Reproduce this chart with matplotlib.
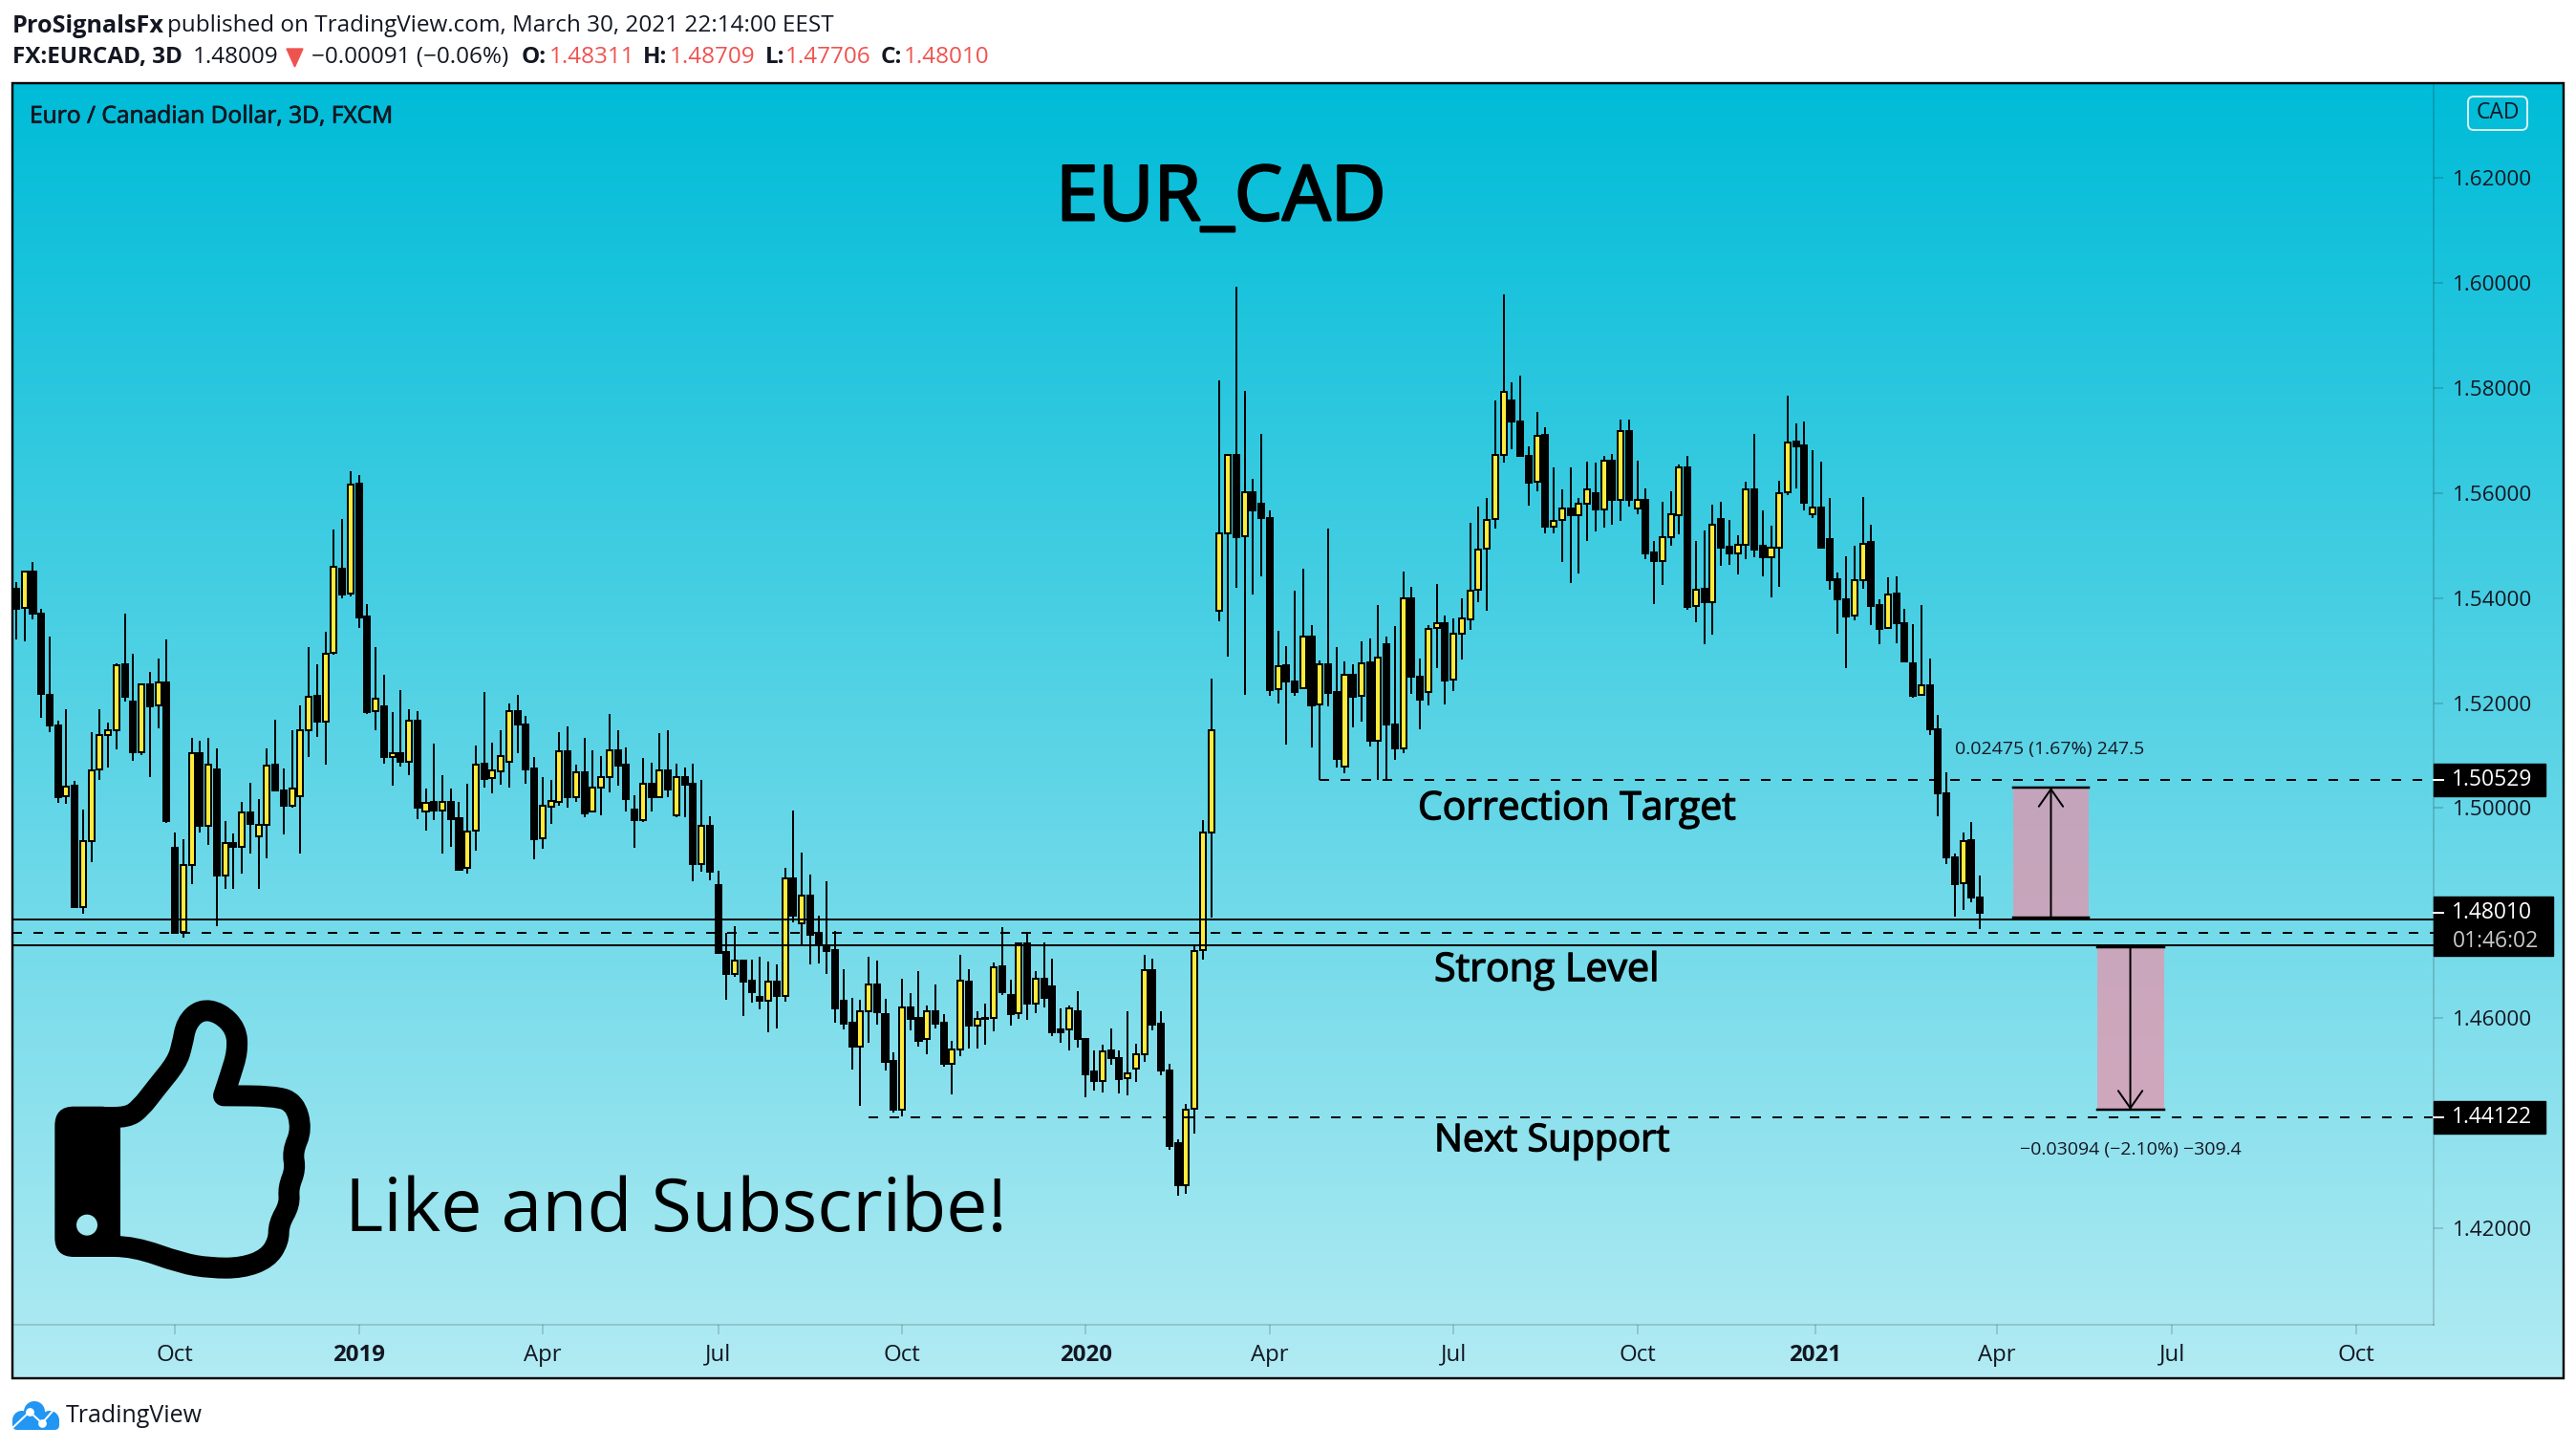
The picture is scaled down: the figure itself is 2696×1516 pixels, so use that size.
#EUR/CAD 3D candle chart with the trade idea drawn over it
import numpy as np
import matplotlib
matplotlib.use("Agg")
import matplotlib.pyplot as plt
import matplotlib.patheffects as pe
from matplotlib.patches import Rectangle, FancyBboxPatch, PathPatch, Circle
from matplotlib.path import Path

plt.rcParams['font.family'] = ['Open Sans', 'DejaVu Sans']

#candle values
opens = [1.5417,1.5381,1.5450,1.5371,1.5216,1.5158,1.5022,1.5042,1.4812,1.4938,
         1.5073,1.5140,1.5149,1.5273,1.5202,1.5107,1.5236,1.5195,1.5240,1.4925,
         1.4764,1.4892,1.5105,1.4967,1.5074,1.4872,1.4934,1.4927,1.4992,1.4946,
         1.4969,1.5082,1.5034,1.5005,1.5022,1.5149,1.5213,1.5165,1.5295,1.5455,
         1.5408,1.5617,1.5364,1.5184,1.5193,1.5098,1.5105,1.5089,1.5167,1.4994,
         1.5011,1.4996,1.5012,1.4980,1.4886,1.4957,1.5084,1.5057,1.5070,1.5089,
         1.5184,1.5160,1.5075,1.4942,1.5003,1.5012,1.5109,1.5021,1.5069,1.4993,
         1.5040,1.5060,1.5111,1.5082,1.4998,1.4978,1.5046,1.5021,1.5071,1.4987,
         1.5060,1.5046,1.4894,1.4967,1.4853,1.4726,1.4684,1.4709,1.4671,1.4640,
         1.4633,1.4670,1.4642,1.4867,1.4780,1.4834,1.4763,1.4739,1.4730,1.4633,
         1.4592,1.4546,1.4614,1.4664,1.4608,1.4518,1.4426,1.4620,1.4600,1.4560,
         1.4613,1.4591,1.4514,1.4541,1.4670,1.4586,1.4601,1.4600,1.4698,1.4645,
         1.4609,1.4743,1.4628,1.4676,1.4660,1.4578,1.4578,1.4613,1.4561,1.4498,
         1.4481,1.4538,1.4525,1.4485,1.4505,1.4532,1.4692,1.4589,1.4501,1.4363,
         1.4282,1.4427,1.4729,1.4953,1.5375,1.5524,1.5672,1.5517,1.5601,1.5579,
         1.5553,1.5226,1.5272,1.5242,1.5228,1.5326,1.5197,1.5274,1.5221,1.5080,
         1.5254,1.5213,1.5277,1.5129,1.5312,1.5160,1.5113,1.5399,1.5251,1.5222,
         1.5343,1.5353,1.5244,1.5333,1.5359,1.5415,1.5494,1.5550,1.5673,1.5776,
         1.5737,1.5670,1.5621,1.5710,1.5536,1.5548,1.5571,1.5557,1.5580,1.5599,
         1.5569,1.5662,1.5587,1.5717,1.5571,1.5586,1.5486,1.5471,1.5516,1.5558,
         1.5648,1.5384,1.5417,1.5393,1.5550,1.5497,1.5485,1.5502,1.5606,1.5499,
         1.5478,1.5496,1.5601,1.5697,1.5690,1.5560,1.5573,1.5513,1.5435,1.5398,
         1.5366,1.5434,1.5506,1.5386,1.5343,1.5408,1.5353,1.5276,1.5215,1.5233,
         1.5151,1.5029,1.4907,1.4857,1.4939,1.4830]
highs = [1.5431,1.5451,1.5468,1.5379,1.5326,1.5167,1.5189,1.5051,1.4998,1.5144,
         1.5189,1.5162,1.5276,1.5371,1.5293,1.5238,1.5260,1.5284,1.5322,1.4954,
         1.4941,1.5134,1.5129,1.5133,1.5114,1.4976,1.4952,1.5012,1.5049,1.5018,
         1.5113,1.5169,1.5076,1.5149,1.5196,1.5307,1.5273,1.5335,1.5530,1.5550,
         1.5641,1.5635,1.5389,1.5306,1.5253,1.5182,1.5225,1.5189,1.5185,1.5038,
         1.5122,1.5062,1.5038,1.5011,1.5047,1.5120,1.5222,1.5124,1.5148,1.5200,
         1.5215,1.5175,1.5097,1.5060,1.5053,1.5144,1.5155,1.5082,1.5133,1.5111,
         1.5100,1.5180,1.5148,1.5115,1.5024,1.5095,1.5087,1.5142,1.5148,1.5084,
         1.5077,1.5084,1.5053,1.4984,1.4880,1.4762,1.4775,1.4712,1.4712,1.4717,
         1.4708,1.4702,1.4886,1.4995,1.4915,1.4873,1.4796,1.4860,1.4766,1.4693,
         1.4639,1.4635,1.4717,1.4710,1.4637,1.4535,1.4675,1.4648,1.4690,1.4624,
         1.4664,1.4608,1.4556,1.4720,1.4693,1.4613,1.4627,1.4707,1.4773,1.4674,
         1.4745,1.4762,1.4689,1.4745,1.4713,1.4618,1.4625,1.4652,1.4562,1.4538,
         1.4549,1.4581,1.4538,1.4614,1.4552,1.4720,1.4713,1.4614,1.4514,1.4370,
         1.4436,1.4737,1.4978,1.5246,1.5814,1.5674,1.5992,1.5794,1.5626,1.5712,
         1.5566,1.5337,1.5308,1.5414,1.5455,1.5348,1.5282,1.5533,1.5306,1.5280,
         1.5273,1.5317,1.5323,1.5386,1.5326,1.5346,1.5450,1.5421,1.5284,1.5348,
         1.5426,1.5366,1.5362,1.5399,1.5544,1.5575,1.5590,1.5776,1.5979,1.5810,
         1.5824,1.5688,1.5755,1.5726,1.5648,1.5606,1.5648,1.5590,1.5659,1.5657,
         1.5670,1.5675,1.5739,1.5739,1.5661,1.5608,1.5508,1.5584,1.5604,1.5655,
         1.5670,1.5508,1.5528,1.5577,1.5584,1.5548,1.5520,1.5622,1.5712,1.5566,
         1.5537,1.5624,1.5785,1.5732,1.5737,1.5681,1.5659,1.5591,1.5449,1.5479,
         1.5500,1.5593,1.5539,1.5397,1.5439,1.5442,1.5379,1.5351,1.5386,1.5284,
         1.5178,1.5069,1.4914,1.4954,1.4974,1.4871]
lows = [1.5322,1.5318,1.5359,1.5172,1.5145,1.5010,1.5008,1.4810,1.4799,1.4897,
        1.5054,1.5077,1.5112,1.5203,1.5090,1.5101,1.5059,1.5152,1.4972,1.4761,
        1.4753,1.4855,1.4954,1.4930,1.4775,1.4846,1.4846,1.4875,1.4914,1.4846,
        1.4904,1.5032,1.4950,1.5001,1.4914,1.5097,1.5136,1.5083,1.5292,1.5400,
        1.5403,1.5343,1.5179,1.5148,1.5085,1.5043,1.5079,1.5063,1.4979,1.4957,
        1.4977,1.4914,1.4926,1.4881,1.4875,1.4919,1.5039,1.5028,1.5044,1.5039,
        1.5105,1.5046,1.4902,1.4922,1.4970,1.5004,1.5001,1.5012,1.4983,1.4992,
        1.4986,1.5030,1.5043,1.4993,1.4924,1.4973,1.4993,1.5019,1.5021,1.4983,
        1.4983,1.4860,1.4879,1.4862,1.4723,1.4635,1.4679,1.4604,1.4630,1.4617,
        1.4573,1.4580,1.4631,1.4782,1.4740,1.4702,1.4704,1.4684,1.4592,1.4579,
        1.4502,1.4433,1.4553,1.4588,1.4500,1.4420,1.4413,1.4577,1.4546,1.4531,
        1.4581,1.4507,1.4455,1.4527,1.4542,1.4542,1.4549,1.4575,1.4644,1.4586,
        1.4598,1.4597,1.4609,1.4620,1.4566,1.4553,1.4538,1.4544,1.4449,1.4462,
        1.4458,1.4511,1.4456,1.4453,1.4478,1.4516,1.4577,1.4491,1.4349,1.4262,
        1.4265,1.4380,1.4711,1.4791,1.5356,1.5288,1.5419,1.5216,1.5406,1.5442,
        1.5214,1.5199,1.5121,1.5214,1.5226,1.5115,1.5054,1.5193,1.5078,1.5066,
        1.5154,1.5165,1.5118,1.5054,1.5054,1.5092,1.5104,1.5218,1.5151,1.5196,
        1.5267,1.5197,1.5223,1.5283,1.5339,1.5392,1.5376,1.5532,1.5658,1.5683,
        1.5668,1.5576,1.5603,1.5523,1.5523,1.5469,1.5429,1.5447,1.5508,1.5527,
        1.5534,1.5539,1.5547,1.5574,1.5559,1.5474,1.5388,1.5425,1.5499,1.5521,
        1.5377,1.5354,1.5312,1.5330,1.5461,1.5463,1.5445,1.5474,1.5477,1.5441,
        1.5401,1.5421,1.5596,1.5608,1.5566,1.5552,1.5494,1.5415,1.5333,1.5266,
        1.5357,1.5417,1.5348,1.5312,1.5342,1.5313,1.5279,1.5211,1.5214,1.5139,
        1.4985,1.4893,1.4794,1.4806,1.4821,1.4770]
closes = [1.5380,1.5450,1.5371,1.5218,1.5158,1.5021,1.5041,1.4812,1.4937,1.5072,
          1.5139,1.5148,1.5272,1.5212,1.5107,1.5236,1.5194,1.5239,1.4975,1.4762,
          1.4892,1.5105,1.4967,1.5083,1.4872,1.4934,1.4927,1.4992,1.4970,1.4968,
          1.5081,1.5034,1.5005,1.5037,1.5148,1.5212,1.5165,1.5294,1.5460,1.5407,
          1.5616,1.5363,1.5183,1.5209,1.5097,1.5105,1.5088,1.5167,1.5001,1.5010,
          1.4995,1.5012,1.4979,1.4883,1.4955,1.5083,1.5056,1.5071,1.5100,1.5184,
          1.5160,1.5074,1.4941,1.5004,1.5013,1.5109,1.5021,1.5069,1.4990,1.5040,
          1.5060,1.5111,1.5081,1.5018,1.4978,1.5046,1.5021,1.5071,1.5035,1.5060,
          1.5044,1.4893,1.4967,1.4879,1.4724,1.4684,1.4709,1.4670,1.4650,1.4633,
          1.4669,1.4642,1.4867,1.4796,1.4834,1.4759,1.4739,1.4728,1.4619,1.4590,
          1.4546,1.4614,1.4664,1.4611,1.4517,1.4426,1.4620,1.4599,1.4557,1.4613,
          1.4590,1.4514,1.4541,1.4672,1.4586,1.4599,1.4598,1.4697,1.4650,1.4608,
          1.4743,1.4628,1.4676,1.4639,1.4573,1.4574,1.4619,1.4561,1.4493,1.4481,
          1.4537,1.4524,1.4484,1.4495,1.4532,1.4692,1.4588,1.4501,1.4357,1.4282,
          1.4426,1.4728,1.4953,1.5149,1.5523,1.5672,1.5516,1.5601,1.5566,1.5553,
          1.5224,1.5271,1.5241,1.5221,1.5326,1.5196,1.5273,1.5220,1.5094,1.5253,
          1.5212,1.5276,1.5129,1.5287,1.5160,1.5113,1.5399,1.5251,1.5207,1.5341,
          1.5352,1.5243,1.5332,1.5362,1.5414,1.5493,1.5549,1.5673,1.5793,1.5737,
          1.5670,1.5620,1.5709,1.5536,1.5547,1.5571,1.5557,1.5580,1.5607,1.5569,
          1.5662,1.5587,1.5717,1.5587,1.5586,1.5485,1.5471,1.5516,1.5560,1.5648,
          1.5383,1.5416,1.5392,1.5539,1.5496,1.5485,1.5502,1.5606,1.5492,1.5477,
          1.5496,1.5600,1.5696,1.5689,1.5581,1.5573,1.5496,1.5434,1.5398,1.5365,
          1.5434,1.5504,1.5385,1.5341,1.5407,1.5352,1.5280,1.5214,1.5233,1.5150,
          1.5029,1.4907,1.4856,1.4938,1.4829,1.4801]

#axis labels
price_ticks = [1.42, 1.46, 1.50, 1.52, 1.54, 1.56, 1.58, 1.60, 1.62]
time_labels = ["Oct", "2019", "Apr", "Jul", "Oct", "2020", "Apr", "Jul", "Oct", "2021", "Apr", "Jul", "Oct"]
time_ticks = [19, 41, 63, 84, 106, 128, 150, 172, 194, 215.3, 237, 258, 280]

#levels drawn on the chart
zone_top = 1.47880
zone_mid = 1.47625
zone_bottom = 1.47389
target_level = 1.50529
support_level = 1.44122
last_close = 1.48010

W, H = 2696, 1516
PX = 0.72  #one pixel in points at dpi 100
DARK = "#131722"
RED = "#ef5350"
YELLOW = "#ffeb3b"

fig = plt.figure(figsize=(W / 100, H / 100), dpi=100, facecolor="white")


def frac_rect(x0, y0, x1, y1):
    return [x0 / W, 1 - y1 / H, (x1 - x0) / W, (y1 - y0) / H]


#gradient behind everything
bg = fig.add_axes(frac_rect(13, 87, 2683, 1442))
shade = np.linspace(0, 1, 256)[:, None, None]
grad = np.array([0, 188, 216]) * (1 - shade) + np.array([178, 235, 243]) * shade
bg.imshow(grad.astype(np.uint8), aspect="auto", interpolation="bilinear", extent=(0, 1, 0, 1))
bg.axis("off")

#price pane
ax = fig.add_axes(frac_rect(13, 87, 2547, 1386))
ax.patch.set_alpha(0)
ax.set_xlim(-0.457, 289.3)
ax.set_ylim(1.40164, 1.63803)

idx = np.arange(len(opens))
o = np.array(opens)
c = np.array(closes)
body_colors = [YELLOW if up else "black" for up in c > o]
ax.vlines(idx, lows, highs, color="black", lw=2 * PX, zorder=2)
ax.bar(idx, np.abs(c - o), bottom=np.minimum(o, c), width=0.69, color=body_colors,
       edgecolor="black", linewidth=2 * PX, zorder=3)

#support zone and dashed levels go over the candles
ax.axhline(zone_top, color="black", lw=2 * PX, zorder=4)
ax.axhline(zone_bottom, color="black", lw=2 * PX, zorder=4)
ax.axhline(zone_mid, color="black", lw=2 * PX, ls=(0, (5, 6)), zorder=4)
ax.plot([156, 289.3], [target_level] * 2, color="black", lw=2 * PX, ls=(0, (5, 6)), zorder=4)
ax.plot([102, 289.3], [support_level] * 2, color="black", lw=2 * PX, ls=(0, (5, 6)), zorder=4)


#the two measure boxes
def measure(x0, x1, y_from, y_to, label, label_y, label_x):
    ax.add_patch(Rectangle((x0, min(y_from, y_to)), x1 - x0, abs(y_to - y_from), facecolor="#ed90a9",
                           alpha=0.7, edgecolor="none", zorder=2))
    ax.plot([x0, x1], [y_from, y_from], color="black", lw=2.5 * PX, zorder=4)
    ax.plot([x0, x1], [y_to, y_to], color="black", lw=2.5 * PX, zorder=4)
    xm = (x0 + x1) / 2
    ax.annotate("", xy=(xm, y_to), xytext=(xm, y_from),
                arrowprops=dict(arrowstyle="->,head_length=0.5,head_width=0.35", color="black", lw=2 * PX,
                                mutation_scale=26, shrinkA=0, shrinkB=0), zorder=5)
    ax.text(label_x, label_y, label, ha="center", va="center", fontsize=14, color=DARK, zorder=6)


measure(239, 248, 1.47917, 1.50392, "0.02475 (1.67%) 247.5", 1.51119, 243.3)
measure(249, 257, 1.47352, 1.44258, "\u22120.03094 (\u22122.10%) \u2212309.4", 1.43494, 253)

#axes decoration
for side in ["left", "top"]:
    ax.spines[side].set_visible(False)
for side in ["right", "bottom"]:
    ax.spines[side].set_color("black")
    ax.spines[side].set_alpha(0.15)
    ax.spines[side].set_linewidth(2 * PX)
ax.yaxis.tick_right()
ax.set_yticks(price_ticks)
ax.set_yticklabels([f"{p:.5f}" for p in price_ticks], fontsize=16.2, color=DARK)
ax.tick_params(axis="y", length=10 * PX, width=2 * PX, color=(0, 0, 0, 0.15), pad=7.5)
ax.set_xticks(time_ticks)
ax.set_xticklabels(time_labels, fontsize=17.3, color=DARK)
for lab, text in zip(ax.get_xticklabels(), time_labels):
    if text.isdigit():
        lab.set_fontweight("bold")
ax.tick_params(axis="x", length=10 * PX, width=2 * PX, color=(0, 0, 0, 0.15), pad=7)

#black price tags on the scale
ytr = ax.get_yaxis_transform()
tag_w = 117 / 2534
dp = 17 / 5495


def tag(price, text, width=tag_w, extra_below=0.0):
    ax.add_patch(FancyBboxPatch((1, price - dp - extra_below), width, 2 * dp + extra_below,
                                boxstyle="square,pad=0", transform=ytr, facecolor="black", edgecolor="black",
                                clip_on=False, zorder=7))
    ax.plot([1, 1 + 10 / 2534], [price, price], color="white", lw=2 * PX, transform=ytr, clip_on=False, zorder=8)
    ax.text(1 + 61 / 2534, price, text, transform=ytr, ha="center", va="center", fontsize=16.5, color="white", zorder=8)


tag(target_level, f"{target_level:.5f}")
tag(support_level, f"{support_level:.5f}")
tag(last_close, f"{last_close:.5f}", width=125 / 2534, extra_below=28 / 5495)
ax.text(1 + 65 / 2534, last_close - 30 / 5495, "01:46:02", transform=ytr, ha="center", va="center",
        fontsize=16.5, color="#c8c8c8", zorder=8)

#everything else is placed in pixel coordinates on a clear layer
top = fig.add_axes([0, 0, 1, 1])
top.set_xlim(0, W)
top.set_ylim(H, 0)
top.axis("off")
top.patch.set_alpha(0)

top.add_patch(Rectangle((13, 87), 2670, 1355, fill=False, edgecolor="black", lw=2.4 * PX))


def label(x, y, s, size, color=DARK, weight="normal", ha="left", stroke=0):
    t = top.text(x, y, s, fontsize=size, color=color, fontweight=weight, ha=ha, va="center")
    if stroke:
        t.set_path_effects([pe.withStroke(linewidth=stroke * PX, foreground=color)])
    return t


#header
label(13, 27, "ProSignalsFx", 18.2, weight="bold")
label(175, 27, "published on TradingView.com, March 30, 2021 22:14:00 EEST", 17.5)
label(13, 60, "FX:EURCAD, 3D", 17.5, weight="bold")
label(202, 60, "1.48009", 17.5)
top.add_patch(plt.Polygon([(300, 51), (317, 51), (308.5, 70)], color=RED))
label(326, 60, "\u22120.00091 (\u22120.06%)", 17.5)
for name, x_name, value, x_value in [("O:", 546, "1.48311", 575), ("H:", 673, "1.48709", 701),
                                     ("L:", 801, "1.47706", 822), ("C:", 922, "1.48010", 946)]:
    label(x_name, 60, name, 17.5, weight="bold")
    label(x_value, 60, value, 17.5, color=RED)

label(31, 122, "Euro / Canadian Dollar, 3D, FXCM", 17.7, stroke=0.7)
top.add_patch(FancyBboxPatch((2583, 101), 62, 35, boxstyle="round,pad=0,rounding_size=6", fill=False,
                             edgecolor="#d5f3f7", lw=2 * PX))
label(2614, 118.5, "CAD", 16.5, ha="center")

#big labels
label(1105, 209, "EUR_CAD", 57.5, color="black", stroke=2.5)
label(1484, 847, "Correction Target", 29.4, color="black", stroke=1.3)
label(1501, 1016, "Strong Level", 29.6, color="black", stroke=1.3)
label(1501, 1194, "Next Support", 28.6, color="black", stroke=1.3)
label(361, 1268, "Like and Subscribe!", 55.5, color="black")


#thumb icon, corners from the reference
def z9(px, py):
    return 30 + px / 3, 1020 + py / 3


hand = [(270, 447), (310, 447), (350, 420), (400, 355), (465, 275), (482, 220), (495, 150), (540, 108), (600, 118),
        (652, 170), (656, 240), (635, 310), (612, 379), (612, 379), (770, 380), (835, 400), (858, 485), (828, 555),
        (838, 610), (815, 668), (820, 720), (785, 782), (785, 835), (750, 890), (670, 920), (570, 920), (480, 905),
        (330, 852), (270, 852)]
verts = [z9(*hand[0])]
codes = [Path.MOVETO]
for i in range(1, len(hand) - 1):
    ctrl = z9(*hand[i])
    nx = z9(*hand[i + 1])
    end = nx if i == len(hand) - 2 else ((ctrl[0] + nx[0]) / 2, (ctrl[1] + nx[1]) / 2)
    verts += [ctrl, end]
    codes += [Path.CURVE3, Path.CURVE3]
top.add_patch(PathPatch(Path(verts, codes), fill=False, edgecolor="black", lw=22 * PX, capstyle="butt", joinstyle="round"))
x0, y0 = z9(82, 413)
x1, y1 = z9(287, 885)
top.add_patch(FancyBboxPatch((x0, y0), x1 - x0, y1 - y0, boxstyle="round,pad=0,rounding_size=20", facecolor="black", edgecolor="none"))
top.add_patch(Rectangle((x1 - 25, y0), 25, y1 - y0, facecolor="black", edgecolor="none"))
hole_x, hole_y = z9(183, 785)
top.add_patch(Circle((hole_x, hole_y), 11, facecolor="#9fe6f0", edgecolor="none"))

#TradingView mark in the footer
blue = "#2196f3"
for cx, cy, r in [(23, 1486, 10), (36, 1477, 11), (52, 1486, 10)]:
    top.add_patch(Circle((cx, cy), r, facecolor=blue, edgecolor="none"))
top.add_patch(FancyBboxPatch((13, 1483), 49, 13, boxstyle="round,pad=0,rounding_size=5", facecolor=blue, edgecolor="none"))
top.plot([14, 31, 44, 58], [1493, 1477, 1489, 1473], color="white", lw=2 * PX)
top.scatter([31, 44], [1477, 1489], s=28, color="white", zorder=5)
label(69, 1481, "TradingView", 18)

fig.savefig("out.png", dpi=100)
